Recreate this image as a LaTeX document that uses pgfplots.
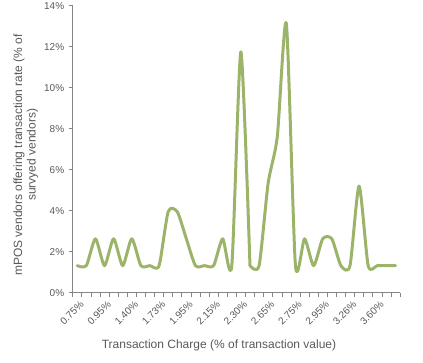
\documentclass[border=0pt]{standalone}
\usepackage{pgfplots}
\pgfplotsset{compat=1.18}
\usepackage{fontspec}
\setmainfont{Liberation Sans}
\definecolor{linegreen}{RGB}{155,180,106}
\definecolor{txtgray}{RGB}{89,89,89}
\definecolor{axgray}{RGB}{134,134,134}
\pgfplotstableread{
i v
0 1.32
1 1.32
2 2.63
3 1.32
4 2.63
5 1.32
6 2.63
7 1.32
8 1.32
9 1.32
10 3.95
11 3.95
12 2.63
13 1.32
14 1.32
15 1.32
16 2.63
17 1.32
18 11.75
19 1.32
20 1.32
21 5.35
22 7.6
23 13.12
24 1.32
25 2.63
26 1.32
27 2.63
28 2.63
29 1.32
30 1.32
31 5.2
32 1.32
33 1.32
34 1.32
35 1.32
}\datatable
\begin{document}
\begin{tikzpicture}
\begin{axis}[
  scale only axis,
  width=327.3pt, height=287pt,
  at={(0,0)}, anchor=south west,
  xmin=-0.5, xmax=35.5,
  ymin=0, ymax=14,
  axis x line*=bottom, axis y line*=left,
  axis line style={draw=axgray, line width=0.8pt, -},
  tick align=outside,
  major tick length=0pt,
  minor tick length=4pt,
  tick style={draw=axgray, line width=0.6pt},
  xtick={0,3,...,33},
  xticklabels={0.75\%,0.95\%,1.40\%,1.73\%,1.95\%,2.15\%,2.30\%,2.65\%,2.75\%,2.95\%,3.26\%,3.60\%},
  minor xtick={-0.5,0.5,...,35.5},
  xticklabel style={rotate=45, anchor=north east, inner sep=1pt, yshift=-6pt, xshift=-3pt},
  ytick={0,2,...,14},
  minor ytick={0,2,...,14},
  yticklabel={\pgfmathprintnumber{\tick}\%},
  yticklabel style={xshift=-5pt},
  /pgf/number format/assume math mode=true,
  ticklabel style={font=\fontsize{10}{12}\selectfont, text=txtgray},
  xlabel={Transaction Charge (\% of transaction value)},
  xlabel style={at={(axis description cs:0.447,-0.182)}, anchor=center, font=\fontsize{12}{14}\selectfont, text=txtgray},
  ylabel={mPOS vendors offering transaction rate (\% of\\survyed vendors)},
  ylabel style={at={(axis description cs:-0.143,0.48)}, anchor=center, align=center, font=\fontsize{12}{13.5}\selectfont, text=txtgray},
  clip=false,
]
\addplot[linegreen, line width=3pt, smooth, tension=0.4, line join=round, line cap=round, restrict x to domain=0:19] table[x=i, y=v] {\datatable};
\addplot[linegreen, line width=3pt, smooth, tension=0.4, line join=round, line cap=round, restrict x to domain=19:35] table[x=i, y=v] {\datatable};
\end{axis}
\pgfresetboundingbox
\path (-72.7pt,-69.3pt) rectangle (350.3pt,292.7pt);
\end{tikzpicture}
\end{document}
